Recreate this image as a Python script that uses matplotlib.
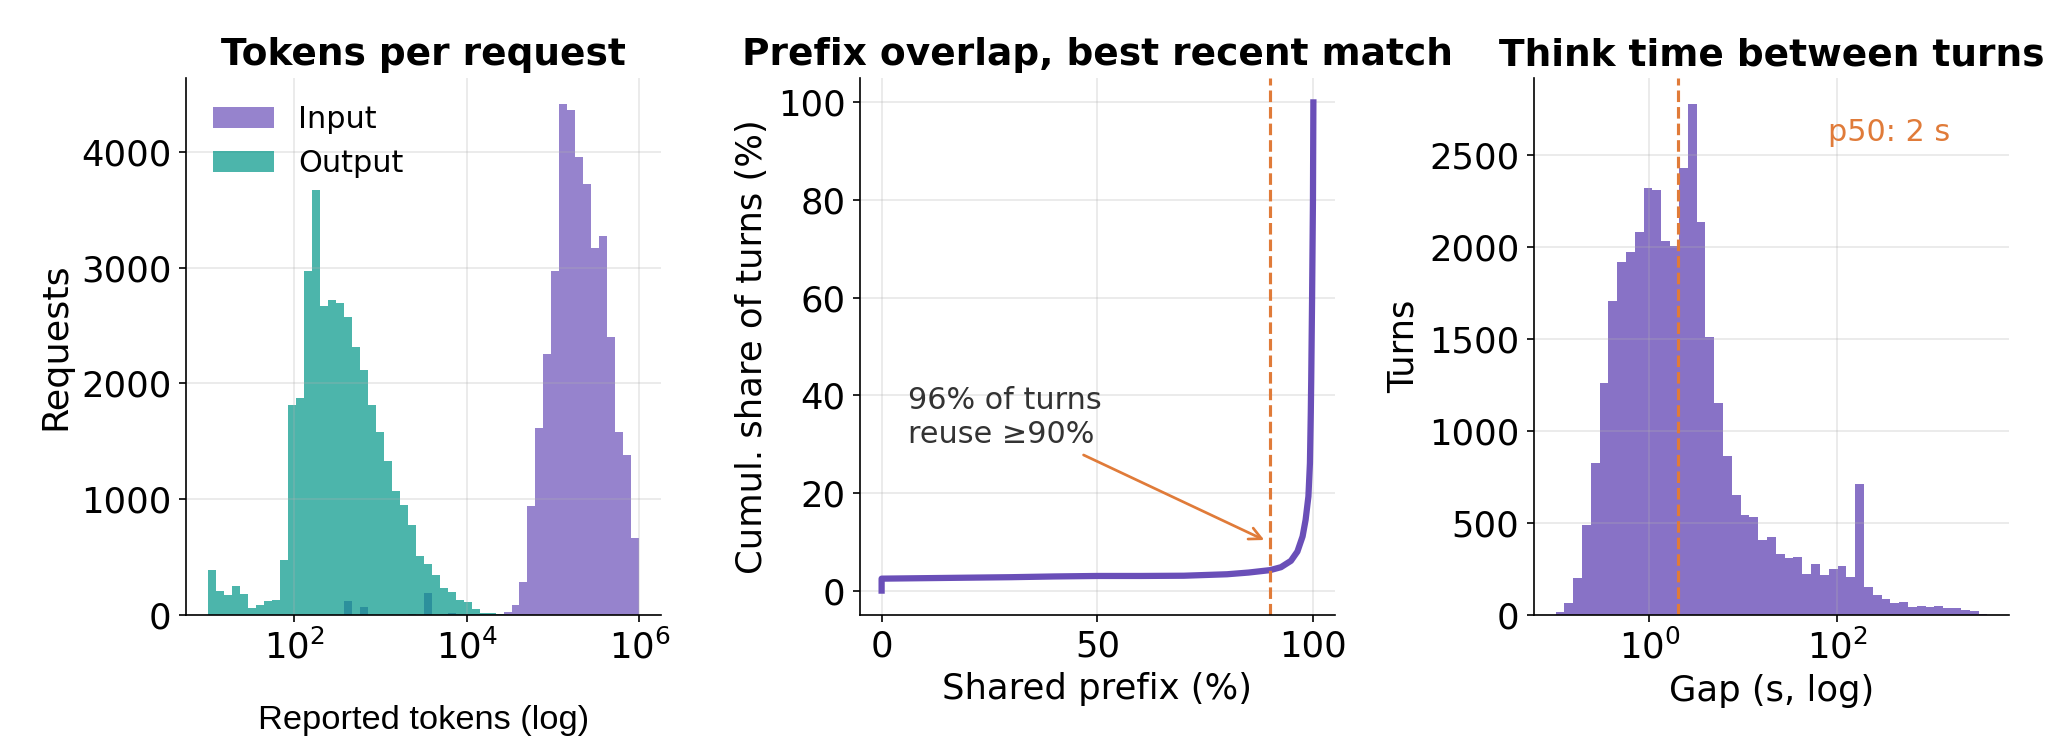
import numpy as np
import matplotlib
matplotlib.use("Agg")
import matplotlib.pyplot as plt
from matplotlib.ticker import NullLocator

PURPLE = "#6a4fb8"
TEAL = "#009688"
ORANGE = "#e07b39"

# panel 1: tokens per request, shared log bins 10^1 .. 10^6
tok_bins = np.logspace(1, 6, 55)
input_counts = [0, 0, 0, 0, 0, 0, 0, 0, 0, 0,
                0, 0, 0, 0, 0, 0, 0, 124, 0, 72,
                0, 0, 0, 0, 0, 12, 0, 193, 0, 9,
                20, 12, 8, 6, 12, 12, 8, 29, 89, 282,
                945, 1618, 2251, 2970, 4416, 4361, 3957, 3720, 3166, 3270,
                2398, 1576, 1384, 669]
output_counts = [392, 205, 176, 254, 184, 63, 89, 118, 133, 478,
                 1810, 1870, 2970, 3668, 2664, 2716, 2698, 2577, 2317, 2118,
                 1810, 1582, 1333, 1075, 954, 781, 513, 444, 349, 236,
                 202, 133, 115, 55, 20, 20, 12, 0, 0, 0,
                 0, 0, 0, 0, 0, 0, 0, 0, 0, 0,
                 0, 0, 0, 0]

# panel 2: cumulative share of turns vs shared prefix
prefix_pct = [0, 0, 10, 20, 30, 40, 50, 60, 70, 80, 85, 90, 92.5, 94.8, 96.3,
              97.5, 98.2, 98.85, 99.2, 99.4, 99.5, 99.7, 99.9, 100]
cum_share = [0, 2.45, 2.55, 2.65, 2.75, 2.9, 3.0, 3.0, 3.05, 3.35, 3.7, 4.2, 4.8, 6.1, 8.0,
             11.1, 14.5, 19.3, 26.1, 36.4, 43.2, 60, 80, 100]
reuse_cut = 90

# panel 3: think time between turns, log bins 10^-1 .. 10^3.6
gap_bins = np.logspace(-1, 3.6, 50)
gap_counts = [16, 64, 201, 489, 827, 1261, 1708, 1915, 1973, 2082,
              2321, 2311, 2034, 2002, 2426, 2778, 2136, 1511, 1153, 865,
              652, 543, 533, 410, 426, 332, 310, 314, 225, 278,
              217, 249, 266, 207, 712, 153, 109, 86, 66, 70,
              44, 48, 44, 48, 38, 38, 26, 22, 5]
gap_p50 = 2

fig, axes = plt.subplots(1, 3, figsize=(2047 / 150, 755 / 150), dpi=150)
fig.subplots_adjust(left=0.0909, right=0.9814, bottom=0.1854, top=0.8967, wspace=0.419)

for ax in axes:
    ax.spines["top"].set_visible(False)
    ax.spines["right"].set_visible(False)
    ax.grid(True, alpha=0.3)
    ax.tick_params(labelsize=17)

# --- tokens per request
ax = axes[0]
tok_mid = np.sqrt(tok_bins[:-1] * tok_bins[1:])
ax.hist(tok_mid, bins=tok_bins, weights=input_counts, color=PURPLE, alpha=0.7, label="Input")
ax.hist(tok_mid, bins=tok_bins, weights=output_counts, color=TEAL, alpha=0.7, label="Output")
ax.set_xscale("log")
ax.xaxis.set_minor_locator(NullLocator())
ax.set_title("Tokens per request", fontsize=18, fontweight="bold")
ax.set_xlabel("Reported tokens (log)", fontsize=16.5, family="Liberation Sans", labelpad=19)
ax.set_ylabel("Requests", fontsize=17.5)
ax.legend(loc="upper left", frameon=False, fontsize=14.5)

# --- prefix overlap
ax = axes[1]
ax.plot(prefix_pct, cum_share, color=PURPLE, lw=3)
ax.axvline(reuse_cut, color=ORANGE, ls="--", lw=1.5)
ax.annotate("96% of turns\nreuse \u226590%", xy=(89.5, 10), xytext=(6, 29),
            fontsize=14.5, color="#333333", ha="left", va="bottom",
            arrowprops=dict(arrowstyle="->", color=ORANGE, lw=1.3))
ax.set_title("Prefix overlap, best recent match", fontsize=18, fontweight="bold")
ax.set_xlabel("Shared prefix (%)", fontsize=17)
ax.set_ylabel("Cumul. share of turns (%)", fontsize=17)

# --- think time
ax = axes[2]
gap_mid = np.sqrt(gap_bins[:-1] * gap_bins[1:])
ax.hist(gap_mid, bins=gap_bins, weights=gap_counts, color=PURPLE, alpha=0.8)
ax.axvline(gap_p50, color=ORANGE, ls="--", lw=1.5)
ax.text(0.62, 0.925, "p50: 2 s", transform=ax.transAxes, color=ORANGE, fontsize=14.5,
        ha="left", va="top")
ax.set_xscale("log")
ax.xaxis.set_minor_locator(NullLocator())
ax.set_title("Think time between turns", fontsize=18, fontweight="bold")
ax.set_xlabel("Gap (s, log)", fontsize=17)
ax.set_ylabel("Turns", fontsize=17)

fig.savefig("out.png", dpi=150)
